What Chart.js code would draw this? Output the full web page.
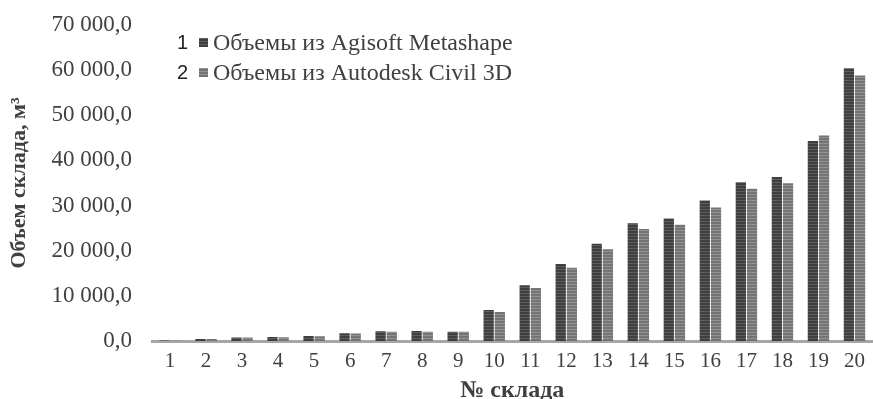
<!DOCTYPE html>
<html>
<head>
<meta charset="utf-8">
<script src="https://cdn.jsdelivr.net/npm/chart.js@4/dist/chart.umd.min.js"></script>
<style>
  html, body { margin: 0; padding: 0; background: #ffffff; }
</style>
</head>
<body>
<canvas id="volumeChart" width="873" height="399"></canvas>
<script>
var warehouses = ["1","2","3","4","5","6","7","8","9","10","11","12","13","14","15","16","17","18","19","20"];
var agisoftVolumes = [100, 450, 800, 900, 1100, 1700, 2150, 2200, 2050, 6850, 12350, 17050, 21550, 26100, 27150, 31100, 35150, 36350, 44300, 60400];
var civilVolumes = [80, 420, 750, 850, 1050, 1650, 2050, 2050, 2050, 6400, 11750, 16250, 20300, 24800, 25750, 29550, 33750, 34950, 45500, 58800];
var seriesNames = ["Объемы из Agisoft Metashape", "Объемы из Autodesk Civil 3D"];
var yTicks = [0, 10000, 20000, 30000, 40000, 50000, 60000, 70000];

// striped fill like the scanned original
function stripes(c1, c2) {
  var pc = document.createElement('canvas');
  pc.width = 4; pc.height = 3;
  var p = pc.getContext('2d');
  p.fillStyle = c1; p.fillRect(0, 0, 4, 2);
  p.fillStyle = c2; p.fillRect(0, 2, 4, 1);
  return p.createPattern(pc, 'repeat');
}

var darkFill = stripes('#3f3f3f', '#5e5e5e');
var lightFill = stripes('#747474', '#929292');

function fmt(v) {
  return String(v).replace(/\B(?=(\d{3})+(?!\d))/g, ' ') + ',0';
}

var legendPlugin = {
  id: 'numberedLegend',
  afterDraw: function(chart) {
    var ctx = chart.ctx;
    var fills = [darkFill, lightFill];
    ctx.save();
    for (var i = 0; i < seriesNames.length; i++) {
      var y = 43 + i * 30;
      ctx.fillStyle = '#222222';
      ctx.font = '20px "Liberation Sans"';
      ctx.textBaseline = 'middle';
      ctx.textAlign = 'left';
      ctx.fillText(String(i + 1), 177, y);
      ctx.fillStyle = fills[i];
      ctx.fillRect(199, y - 5, 9, 9);
      ctx.fillStyle = '#404040';
      ctx.font = '24px "Liberation Serif"';
      ctx.fillText(seriesNames[i], 213, y + 1);
    }
    ctx.restore();
  }
};

var canvas = document.getElementById('volumeChart');
var ctx = canvas.getContext('2d');

var chart = new Chart(ctx, {
  type: 'bar',
  data: {
    labels: warehouses,
    datasets: [
      { label: seriesNames[0], data: agisoftVolumes, backgroundColor: darkFill, borderWidth: 0 },
      { label: seriesNames[1], data: civilVolumes, backgroundColor: lightFill, borderWidth: 0 }
    ]
  },
  options: {
    responsive: false,
    devicePixelRatio: 1,
    animation: false,
    datasets: { bar: { categoryPercentage: 0.62, barPercentage: 0.92 } },
    layout: { padding: { top: 25, right: 0, left: 0, bottom: 0 } },
    plugins: {
      legend: { display: false },
      tooltip: { enabled: false }
    },
    scales: {
      x: {
        afterFit: function(scale) { scale.height = 58; },
        grid: { display: false, drawTicks: false },
        border: { display: true, color: '#a6a6a6', width: 3 },
        ticks: {
          color: '#404040',
          font: { family: 'Liberation Serif', size: 21 },
          padding: 8,
          maxRotation: 0,
          autoSkip: false
        },
        title: {
          display: true,
          text: '№ склада',
          color: '#404040',
          font: { family: 'Liberation Serif', size: 24, weight: 'bold', lineHeight: 0.7 },
          padding: { top: 0, bottom: 0 }
        }
      },
      y: {
        min: 0,
        max: 70000,
        afterBuildTicks: function(scale) {
          scale.ticks = yTicks.map(function(v) { return { value: v }; });
        },
        afterFit: function(scale) {
          scale.width = 152;
          scale.paddingTop = 0;
          scale.paddingBottom = 0;
        },
        grid: { display: false, drawTicks: false },
        border: { display: false },
        ticks: {
          color: '#404040',
          font: { family: 'Liberation Serif', size: 23 },
          padding: 20,
          callback: function(v) { return fmt(v); }
        },
        title: {
          display: true,
          text: 'Объем склада, м³',
          color: '#404040',
          font: { family: 'Liberation Serif', size: 22, weight: 'bold', lineHeight: 1.2 },
          padding: { top: 6, bottom: 0 }
        }
      }
    }
  },
  plugins: [legendPlugin]
});
</script>
</body>
</html>
